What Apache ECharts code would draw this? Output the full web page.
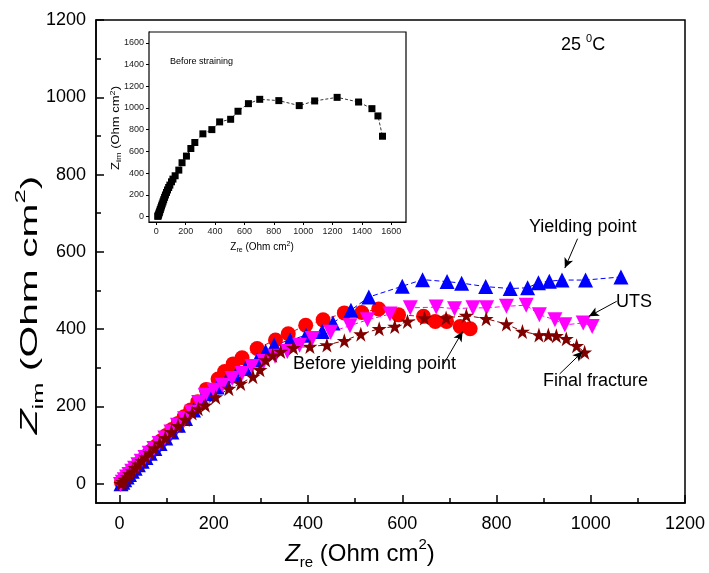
<!DOCTYPE html>
<html>
<head>
<meta charset="utf-8">
<script src="https://cdn.jsdelivr.net/npm/echarts@6/dist/echarts.min.js"></script>
<style>
  html, body { margin: 0; padding: 0; background: #fff; }
  #chart { width: 709px; height: 573px; }
</style>
</head>
<body>
<div id="chart"></div>
<script>
// Nyquist data, Zre / Zim in Ohm cm^2
const beforeYielding = [
  [4,3],[8,9],[13,16],[19,24],[25,32],[32,41],[40,51],[48,61],[57,72],[67,85],[77,97],[88,111],
  [99,125],[111,140],[124,156],[137,173],[151,191],[166,212],[184,244],[209,271],[223,290],[241,310],
  [260,326],[292,350],[331,372],[358,388],[395,410],[432,424],[477,442],[514,443],[550,452],[592,437],
  [645,433],[670,420],[694,420],[723,407],[744,401]
];
const yieldingPoint = [
  [3,0],[7,4],[11,10],[16,17],[21,24],[27,32],[33,40],[40,49],[48,58],[56,68],[65,79],[75,91],
  [86,104],[98,118],[111,134],[125,151],[140,169],[157,191],[175,220],[189,233],[207,250],[225,263],
  [246,279],[267,298],[292,320],[310,342],[328,359],[362,372],[396,384],[430,394],[453,416],[491,449],
  [529,483],[600,511],[643,528],[695,523],[726,519],[777,510],[829,505],[866,507],[889,520],[912,524],
  [939,527],[989,527],[1064,535]
];
const utsPoint = [
  [2,-2],[6,4],[10,10],[15,17],[20,24],[26,32],[32,40],[39,49],[46,58],[54,68],[63,79],[73,91],
  [84,104],[96,118],[109,134],[123,151],[138,168],[153,185],[168,210],[182,229],[200,242],[218,255],
  [239,272],[260,285],[281,303],[306,316],[330,330],[356,342],[382,358],[409,376],[448,392],[489,409],
  [526,424],[574,439],[617,455],[672,457],[711,453],[750,455],[779,455],[821,459],[863,462],[891,437],
  [924,424],[945,411],[984,416],[1003,407]
];
const finalFracture = [
  [3,0],[7,5],[11,11],[16,18],[21,25],[27,33],[33,41],[40,50],[47,59],[55,69],[64,80],[74,92],
  [85,105],[97,119],[110,134],[124,150],[139,166],[154,183],[167,194],[182,203],[204,224],[232,246],
  [257,259],[283,277],[298,295],[310,320],[325,332],[342,342],[369,352],[404,355],[440,359],[477,370],
  [512,387],[551,401],[584,407],[611,420],[647,429],[693,429],[736,435],[778,427],[821,413],[855,394],
  [890,385],[910,385],[927,383],[948,375],[970,357],[987,340]
];
const beforeStraining = [
  [10,2],[12,7],[14,15],[17,25],[20,37],[23,50],[27,65],[31,81],[35,98],[40,116],[45,135],[50,155],
  [56,177],[62,199],[69,222],[76,245],[84,268],[92,290],[103,320],[113,345],[128,376],[153,428],
  [175,496],[205,557],[235,627],[262,682],[317,762],[378,801],[431,872],[506,896],[556,970],[627,1040],
  [704,1080],[834,1068],[973,1022],[1078,1065],[1231,1098],[1377,1055],[1468,994],[1509,927],[1540,740]
];

// Tick values
const mainXTicks = [0,200,400,600,800,1000,1200];
const mainXMinor = [100,300,500,700,900,1100];
const mainYTicks = [0,200,400,600,800,1000,1200];
const mainYMinor = [100,300,500,700,900,1100];
const insetTicks = [0,200,400,600,800,1000,1200,1400,1600];

// Annotation arrows [from, to] in data units
const arrows = [
  [[972,634],[945,558]],
  [[1055,472],[996,433]],
  [[687,308],[728,394]],
  [[934,284],[983,342]]
];

const FONT = 'Liberation Sans, Arial, Helvetica, sans-serif';
const STAR = 'path://M50,0 L61.8,35.3 L98.9,35.3 L68.9,57.1 L80.3,92.7 L50,70.9 L19.7,92.7 L31.1,57.1 L1.1,35.3 L38.2,35.3 Z';

const MAIN = { left: 96, top: 20, right: 24, bottom: 70 };
const INSET = { left: 149, top: 32, right: 303, bottom: 351 };
const plain = v => String(v);

function mainSeries(name, data, color, symbol, size, extra) {
  return Object.assign({
    name, type: 'line', data, xAxisIndex: 0, yAxisIndex: 0,
    symbol, symbolSize: size, showSymbol: true, showAllSymbol: true,
    itemStyle: { color, borderWidth: 0 },
    lineStyle: { color, width: 1, type: [5, 3] },
    animation: false, z: 3
  }, extra || {});
}

const titleRich = (size, subSize, italic) => ({
  z: { fontFamily: FONT, fontStyle: italic ? 'italic' : 'normal', fontSize: size, lineHeight: size * 1.35, fill: '#000' },
  t: { fontFamily: FONT, fontSize: size, lineHeight: size * 1.35, fill: '#000' },
  sub: { fontFamily: FONT, fontSize: subSize, lineHeight: subSize, verticalAlign: 'bottom', fill: '#000' },
  sup: { fontFamily: FONT, fontSize: subSize, lineHeight: subSize, verticalAlign: 'top', fill: '#000' }
});

function valueAxis(gridIndex, min, max, pos, opts) {
  return {
    gridIndex, type: 'value', min, max, position: pos,
    axisLine: { show: opts.line, onZero: false, lineStyle: { color: '#000', width: opts.lw || 1.5 } },
    axisTick: {
      show: true, inside: opts.inside, length: opts.tickLen, customValues: opts.ticks,
      lineStyle: { color: '#000', width: opts.lw || 1.5 }
    },
    axisLabel: opts.labelSize ? {
      show: true, customValues: opts.ticks, formatter: plain, fontSize: opts.labelSize,
      color: opts.labelColor || '#000', fontFamily: FONT, margin: opts.margin
    } : { show: false },
    splitLine: { show: false }
  };
}

const chart = echarts.init(document.getElementById('chart'), null, { renderer: 'canvas' });

const option = {
  backgroundColor: '#fff',
  animation: false,
  grid: [
    Object.assign({ show: true, borderColor: '#000', borderWidth: 1.5, backgroundColor: 'transparent', z: 2 }, MAIN),
    Object.assign({ show: true, borderColor: '#000', borderWidth: 1.2, backgroundColor: '#fff', z: 4 }, INSET),
    Object.assign({ show: false }, MAIN)
  ],
  xAxis: [
    valueAxis(0, -50, 1200, 'bottom', { line: true, inside: true, tickLen: 8, ticks: mainXTicks, labelSize: 18, margin: 12 }),
    valueAxis(1, -50, 1700, 'bottom', { line: true, inside: false, tickLen: 3, ticks: insetTicks, labelSize: 9, labelColor: '#222', margin: 5, lw: 1 }),
    valueAxis(2, -50, 1200, 'bottom', { line: false, inside: true, tickLen: 5, ticks: mainXMinor })
  ],
  yAxis: [
    valueAxis(0, -50, 1200, 'left', { line: true, inside: true, tickLen: 8, ticks: mainYTicks, labelSize: 18, margin: 10 }),
    valueAxis(1, -50, 1700, 'left', { line: true, inside: false, tickLen: 3, ticks: insetTicks, labelSize: 9, labelColor: '#222', margin: 5, lw: 1 }),
    valueAxis(2, -50, 1200, 'left', { line: false, inside: true, tickLen: 5, ticks: mainYMinor })
  ],
  series: [
    mainSeries('Before yielding point', beforeYielding, '#ff0000', 'circle', 15),
    mainSeries('Yielding point', yieldingPoint, '#0000ff', 'triangle', 15),
    mainSeries('UTS', utsPoint, '#ff00ff', 'triangle', 15, { symbolRotate: 180 }),
    mainSeries('Final fracture', finalFracture, '#800000', STAR, 15, {
      markLine: {
        silent: true, animation: false,
        symbol: ['none', 'arrow'], symbolSize: [7, 10],
        label: { show: false },
        lineStyle: { color: '#000', width: 1, type: 'solid' },
        itemStyle: { color: '#000' },
        emphasis: { disabled: true },
        data: arrows.map(a => [{ coord: a[0] }, { coord: a[1] }])
      }
    }),
    {
      name: 'Before straining', type: 'line', data: beforeStraining,
      xAxisIndex: 1, yAxisIndex: 1, symbol: 'rect', symbolSize: 7,
      showSymbol: true, showAllSymbol: true,
      itemStyle: { color: '#000' },
      lineStyle: { color: '#000', width: 0.8, type: [3, 2] },
      animation: false, z: 6
    }
  ],
  graphic: [
    {
      type: 'text', left: 561, top: 33, z: 10,
      style: {
        text: '{t|25 }{sup|0}{t|C}',
        rich: {
          t: { fontFamily: FONT, fontSize: 18, lineHeight: 24, fill: '#000' },
          sup: { fontFamily: FONT, fontSize: 11, lineHeight: 11, verticalAlign: 'top', fill: '#000' }
        }
      }
    },
    { type: 'text', left: 529, top: 218, z: 10, style: { text: 'Yielding point', font: '18px ' + FONT, fill: '#000' } },
    { type: 'text', left: 616, top: 293, z: 10, style: { text: 'UTS', font: '18px ' + FONT, fill: '#000' } },
    { type: 'text', left: 293, top: 355, z: 10, style: { text: 'Before yielding point', font: '18px ' + FONT, fill: '#000' } },
    { type: 'text', left: 543, top: 372, z: 10, style: { text: 'Final fracture', font: '18px ' + FONT, fill: '#000' } },
    { type: 'text', left: 170, top: 57, z: 10, style: { text: 'Before straining', font: '9px ' + FONT, fill: '#000' } },
    // main axis titles
    {
      type: 'text', x: 360, y: 554, z: 10,
      style: { text: '{z|Z}{sub|re}{t| (Ohm cm}{sup|2}{t|)}', rich: titleRich(24, 15, true), align: 'center', verticalAlign: 'middle' }
    },
    {
      type: 'text', x: 30, y: 305, rotation: Math.PI / 2, scaleX: 1.7, z: 10,
      style: { text: '{z|Z}{sub|im}{t| (Ohm cm}{sup|2}{t|)}', rich: titleRich(24, 15, true), align: 'center', verticalAlign: 'middle' }
    },
    // inset axis titles
    {
      type: 'text', x: 262, y: 247, z: 10,
      style: { text: '{z|Z}{sub|re}{t| (Ohm cm}{sup|2}{t|)}', rich: titleRich(10, 7, false), align: 'center', verticalAlign: 'middle' }
    },
    {
      type: 'text', x: 116, y: 128, rotation: Math.PI / 2, scaleX: 1.3, z: 10,
      style: { text: '{z|Z}{sub|im}{t| (Ohm cm}{sup|2}{t|)}', rich: titleRich(10, 7, false), align: 'center', verticalAlign: 'middle' }
    }
  ]
};

chart.setOption(option);
</script>
</body>
</html>
